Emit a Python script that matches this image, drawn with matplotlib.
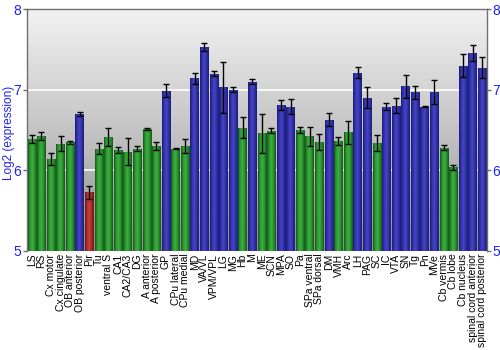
import matplotlib
matplotlib.use("Agg")
import matplotlib.pyplot as plt
import numpy as np
from matplotlib.colors import LinearSegmentedColormap

plt.rcParams['font.family'] = ['Liberation Sans', 'DejaVu Sans']

regions = ["LS", "RS", "Cx motor", "Cx cingulate", "OB anterior", "OB posterior", "Pir",
           "Tu", "ventral S", "CA1", "CA2/CA3", "DG", "A anterior", "A posterior", "GP",
           "CPu lateral", "CPu medial", "MD", "VA/VL", "VPM/VPL", "LG", "MG", "Hb", "M",
           "ME", "SCN", "MPA", "SO", "Pa", "SPa ventral", "SPa dorsal", "DM", "VMH", "Arc",
           "LH", "PAG", "SC", "IC", "VTA", "SN", "Tg", "Pn", "MVe", "Cb vermis", "Cb lobe",
           "Cb nucleus", "spinal cord anterior", "spinal cord posterior"]

expr = [6.39, 6.43, 6.14, 6.33, 6.35, 6.70, 5.73,
        6.27, 6.41, 6.25, 6.23, 6.27, 6.51, 6.30, 6.99,
        6.27, 6.30, 7.14, 7.53, 7.20, 7.03, 7.00, 6.53, 7.10,
        6.46, 6.49, 6.81, 6.79, 6.50, 6.42, 6.35, 6.63, 6.36, 6.47,
        7.21, 6.90, 6.34, 6.79, 6.80, 7.04, 6.97, 6.79, 6.97, 6.28, 6.04,
        7.30, 7.46, 7.27]

err = [0.05, 0.05, 0.07, 0.09, 0.02, 0.02, 0.08,
       0.07, 0.11, 0.04, 0.17, 0.03, 0.01, 0.05, 0.08,
       0.01, 0.09, 0.07, 0.055, 0.035, 0.32, 0.03, 0.13, 0.03,
       0.24, 0.03, 0.066, 0.095, 0.04, 0.12, 0.10, 0.08, 0.05, 0.14,
       0.066, 0.13, 0.10, 0.045, 0.093, 0.14, 0.08, 0.006, 0.15, 0.03, 0.03,
       0.14, 0.10, 0.13]

# bar colour group per region: g = green, b = blue, r = red
groups = ["g", "g", "g", "g", "g", "b", "r",
          "g", "g", "g", "g", "g", "g", "g", "b",
          "g", "g", "b", "b", "b", "b", "b", "g", "b",
          "g", "g", "b", "b", "g", "g", "g", "b", "g", "g",
          "b", "b", "g", "b", "b", "b", "b", "b", "b", "g", "g",
          "b", "b", "b"]

# left-to-right shading across each bar
shades = {
    "g": ["#14561a", "#2c9a30", "#3cb040", "#2a8e2e", "#14561a"],
    "b": ["#1c1c78", "#3434b0", "#4646c4", "#3030a4", "#1c1c78"],
    "r": ["#6e1414", "#b03030", "#c84040", "#a02828", "#6e1414"],
}

fig = plt.figure(figsize=(5, 3.5), dpi=100)
ax = fig.add_axes([0.054, 0.283, 0.92, 0.691])

x = np.arange(len(regions))
ymin, ymax = 5, 8

# grey vertical background gradient
bg = LinearSegmentedColormap.from_list("bg", ["#8e8e8e", "#c4c4c4", "#f2f2f2"])
ax.imshow(np.linspace(0, 1, 256).reshape(-1, 1), cmap=bg, origin="lower",
          extent=[0, 1, 0, 1], transform=ax.transAxes, aspect="auto", zorder=0)

for yv in [6, 7]:
    ax.axhline(yv, color="white", lw=1.2, zorder=1)

bars = ax.bar(x, np.array(expr) - ymin, bottom=ymin, width=0.88,
              color="none", edgecolor="none", zorder=2)

grad = np.linspace(0, 1, 64).reshape(1, -1)
for bar, grp in zip(bars, groups):
    cmap = LinearSegmentedColormap.from_list("c" + grp, shades[grp])
    bx, bw = bar.get_x(), bar.get_width()
    im = ax.imshow(grad, cmap=cmap, aspect="auto", zorder=2,
                   extent=[bx, bx + bw, ymin, ymin + bar.get_height()])
    im.set_clip_path(bar)

ax.errorbar(x, expr, yerr=err, fmt="none", ecolor="black", elinewidth=1,
            capsize=2, capthick=1, zorder=3)

ax.set_xlim(-0.5, len(regions) - 0.5)
ax.set_ylim(ymin, ymax)
ax.set_xticks(x)
ax.set_xticklabels(regions, rotation=90, fontsize=7.5)
ax.tick_params(axis="x", length=0, pad=2)
ax.set_yticks([5, 6, 7, 8])
ax.tick_params(axis="y", color="#707070", labelcolor="#2020ff", labelsize=10,
               length=3, width=1, right=True, labelright=True, pad=1)
ax.set_ylabel("Log2 (expression)", color="#2020ff", fontsize=8.5)
ax.yaxis.set_label_coords(-0.026, 0.49)

for s in ax.spines.values():
    s.set_color("#707070")
    s.set_linewidth(1)
ax.spines["bottom"].set_visible(False)

fig.savefig("out.png", dpi=100)
